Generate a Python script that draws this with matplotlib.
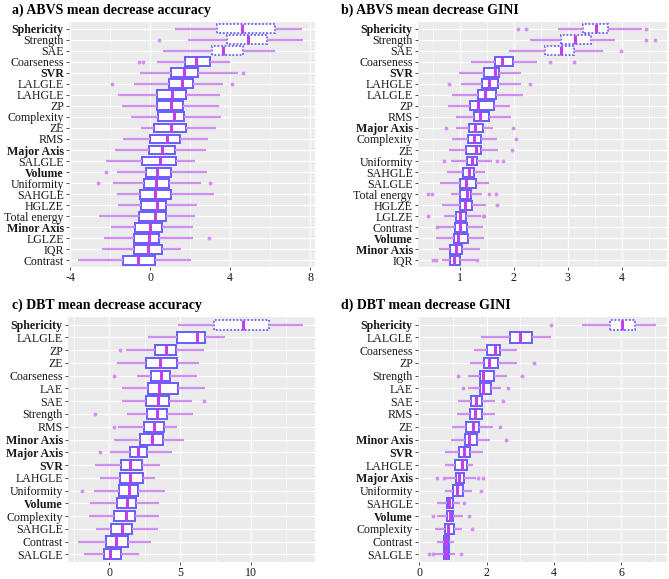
import matplotlib.pyplot as plt

plt.rcParams['font.family'] = ['Liberation Serif', 'DejaVu Serif']

# ---- panel a) ABVS mean decrease accuracy ----
a_labels = ["Sphericity", "Strength", "SAE", "Coarseness", "SVR", "LALGLE", "LAHGLE", "ZP",
            "Complexity", "ZE", "RMS", "Major Axis", "SALGLE", "Volume", "Uniformity", "SAHGLE",
            "HGLZE", "Total energy", "Minor Axis", "LGLZE", "IQR", "Contrast"]
a_lo = [1.25, 1.88, 0.67, 0.35, -0.50, -0.78, -1.60, -1.38, -0.97, -0.43, -1.33, -1.73, -2.20,
        -1.63, -1.83, -1.63, -1.58, -2.55, -1.95, -2.28, -2.38, -3.58]
a_q1 = [3.37, 3.83, 3.08, 1.73, 1.03, 0.93, 0.37, 0.37, 0.38, 0.20, 0.02, -0.07, -0.38,
        -0.22, -0.32, -0.52, -0.43, -0.57, -0.73, -0.80, -0.78, -1.37]
a_med = [4.62, 4.92, 3.67, 2.30, 1.68, 1.60, 1.08, 1.05, 1.18, 1.05, 0.87, 0.62, 0.50,
         0.37, 0.32, 0.25, 0.37, 0.25, -0.02, -0.07, -0.12, -0.58]
a_q3 = [6.27, 5.87, 4.67, 3.02, 2.38, 2.17, 1.82, 1.65, 1.72, 1.82, 1.52, 1.27, 1.30,
        1.07, 0.93, 1.05, 0.82, 0.82, 0.62, 0.43, 0.60, 0.27]
a_hi = [7.58, 7.63, 6.25, 4.00, 4.38, 3.65, 3.48, 3.43, 3.53, 3.30, 2.90, 2.78, 2.27,
        2.85, 2.55, 3.20, 2.33, 2.27, 2.13, 2.13, 1.53, 2.03]
a_out = [[], [0.47], [], [-0.53, -0.37], [4.63], [-1.88, 4.10], [], [], [], [], [], [], [],
         [-2.22], [-2.58, 3.02], [], [], [], [], [2.97], [], []]

# ---- panel b) ABVS mean decrease GINI ----
b_labels = ["Sphericity", "Strength", "SAE", "Coarseness", "SVR", "LAHGLE", "LALGLE", "ZP",
            "RMS", "Major Axis", "Complexity", "ZE", "Uniformity", "SAHGLE", "SALGLE",
            "Total energy", "HGLZE", "LGLZE", "Contrast", "Volume", "Minor Axis", "IQR"]
b_lo = [2.81, 2.30, 1.90, 1.21, 0.98, 1.02, 0.85, 0.78, 0.92, 0.93, 0.86, 0.80, 0.83, 0.76,
        0.63, 0.84, 0.67, 0.70, 0.59, 0.56, 0.61, 0.66]
b_q1 = [3.28, 2.88, 2.57, 1.64, 1.44, 1.40, 1.33, 1.19, 1.25, 1.16, 1.14, 1.11, 1.12, 1.05,
        0.99, 1.00, 0.99, 0.93, 0.91, 0.88, 0.82, 0.82]
b_med = [3.53, 3.14, 2.87, 1.78, 1.64, 1.54, 1.46, 1.34, 1.37, 1.27, 1.26, 1.29, 1.22, 1.16,
         1.11, 1.12, 1.09, 1.00, 1.00, 0.96, 0.93, 0.89]
b_q3 = [3.75, 3.43, 3.12, 1.98, 1.73, 1.70, 1.66, 1.63, 1.54, 1.43, 1.39, 1.39, 1.32, 1.26,
        1.29, 1.21, 1.22, 1.11, 1.12, 1.14, 1.04, 0.99]
b_hi = [4.38, 3.87, 3.66, 2.42, 2.14, 2.14, 2.17, 1.93, 1.94, 1.62, 1.69, 1.71, 1.59, 1.47,
        1.54, 1.40, 1.48, 1.39, 1.42, 1.45, 1.37, 1.29]
b_out = [[2.08, 2.22, 4.45], [4.45, 4.62], [3.98], [2.67, 3.11], [], [0.79, 2.29], [], [], [],
         [0.74, 1.99], [2.04], [1.96], [0.71, 1.69, 1.79], [], [], [0.40, 0.48, 1.54, 1.66],
         [1.69], [0.40, 1.42, 1.45], [0.57], [], [], [0.50, 0.55, 1.31]]

# ---- panel c) DBT mean decrease accuracy ----
c_labels = ["Sphericity", "LALGLE", "ZP", "ZE", "Coarseness", "LAE", "SAE", "Strength", "RMS",
            "Minor Axis", "Major Axis", "SVR", "LAHGLE", "Uniformity", "Volume", "Complexity",
            "SAHGLE", "Contrast", "SALGLE"]
c_lo = [4.87, 2.75, 1.15, 0.56, 1.98, 0.92, 0.92, 1.22, 0.64, 0.35, 0.07, -1.01, -0.68,
        -1.06, -1.36, -1.44, -0.96, -2.21, -1.79]
c_q1 = [7.36, 4.80, 3.25, 2.61, 2.96, 2.71, 2.59, 2.64, 2.42, 2.19, 1.48, 0.85, 0.78,
        0.71, 0.56, 0.31, 0.14, -0.26, -0.40]
c_med = [9.46, 6.21, 3.98, 3.60, 3.62, 3.51, 3.41, 3.34, 3.18, 3.01, 2.02, 1.44, 1.44,
         1.39, 1.22, 1.15, 0.87, 0.45, 0.05]
c_q3 = [11.29, 6.75, 4.71, 4.80, 4.31, 4.85, 4.19, 4.09, 3.84, 3.76, 2.68, 2.33, 2.35,
        2.00, 1.91, 1.84, 1.58, 1.34, 0.85]
c_hi = [13.69, 8.14, 6.68, 6.35, 6.16, 6.78, 5.81, 5.88, 4.78, 5.25, 4.40, 3.58, 3.22,
        3.91, 3.51, 3.51, 3.44, 2.92, 2.07]
c_out = [[], [], [0.75], [], [0.33], [], [6.68], [-1.04], [0.31], [], [-0.68], [], [],
         [-1.93], [], [], [], [], []]

# ---- panel d) DBT mean decrease GINI ----
d_labels = ["Sphericity", "LALGLE", "Coarseness", "ZP", "Strength", "LAE", "SAE", "RMS", "ZE",
            "Minor Axis", "SVR", "LAHGLE", "Major Axis", "Uniformity", "SAHGLE", "Volume",
            "Complexity", "Contrast", "SALGLE"]
d_lo = [4.85, 1.82, 1.63, 1.50, 1.46, 1.46, 1.15, 1.11, 0.97, 0.94, 0.76, 0.76, 0.74, 0.75,
        0.52, 0.53, 0.46, 0.53, 0.37]
d_q1 = [5.67, 2.71, 2.00, 1.91, 1.80, 1.81, 1.55, 1.50, 1.38, 1.37, 1.18, 1.06, 1.10, 1.00,
        0.83, 0.81, 0.75, 0.72, 0.74]
d_med = [6.02, 3.01, 2.24, 2.06, 1.89, 1.90, 1.70, 1.66, 1.61, 1.49, 1.33, 1.27, 1.19, 1.11,
         0.89, 0.91, 0.86, 0.80, 0.80]
d_q3 = [6.41, 3.34, 2.41, 2.34, 2.23, 2.13, 1.85, 1.85, 1.78, 1.72, 1.50, 1.43, 1.34, 1.31,
        1.00, 1.00, 1.02, 0.89, 0.89]
d_hi = [7.03, 3.93, 2.92, 2.90, 2.60, 2.43, 2.24, 2.24, 2.18, 2.10, 1.89, 1.60, 1.68, 1.58,
        1.22, 1.29, 1.27, 1.04, 1.06]
d_out = [[3.91], [], [], [3.41], [1.15, 3.05], [1.30, 2.65], [2.48], [], [2.40], [2.57], [],
         [], [0.52, 0.72, 1.76, 1.90], [1.84], [1.33], [0.41, 1.47], [1.58], [], [0.30, 0.40, 1.24]]

bold_labels = {"Sphericity", "SVR", "Major Axis", "Volume", "Minor Axis"}

BOX = "#6a5cff"
MED = "#c040ee"
WHISK = "#d08ef3"
FLIER = "#d490f0"

panels = [
    ("a) ABVS mean decrease accuracy", a_labels, a_lo, a_q1, a_med, a_q3, a_hi, a_out, 3,
     (69, 22, 315, 267), (-4.05, 8.25), [-4, 0, 4, 8], [-2, 2, 6], 12),
    ("b) ABVS mean decrease GINI", b_labels, b_lo, b_q1, b_med, b_q3, b_hi, b_out, 3,
     (418, 22, 667, 267), (0.22, 4.84), [1, 2, 3, 4], [0.5, 1.5, 2.5, 3.5, 4.5], 341),
    ("c) DBT mean decrease accuracy", c_labels, c_lo, c_q1, c_med, c_q3, c_hi, c_out, 1,
     (68, 317, 315, 562), (-2.92, 14.52), [0, 5, 10], [-2.5, 2.5, 7.5, 12.5], 12),
    ("d) DBT mean decrease GINI", d_labels, d_lo, d_q1, d_med, d_q3, d_hi, d_out, 1,
     (418, 317, 667, 562), (-0.04, 7.37), [0, 2, 4, 6], [1, 3, 5, 7], 341),
]

W, H = 669, 579
fig = plt.figure(figsize=(W / 100, H / 100), dpi=100)

for (title, labels, lo, q1, med, q3, hi, out, n_dot, box_px, xlim, majors, minors, tx) in panels:
    l, t, r, b = box_px
    ax = fig.add_axes([l / W, 1 - b / H, (r - l) / W, (b - t) / H])
    ax.set_facecolor("#ebebeb")
    n = len(labels)
    pos = [n - i for i in range(n)]

    stats = []
    for i in range(n):
        stats.append(dict(whislo=lo[i], q1=q1[i], med=med[i], q3=q3[i], whishi=hi[i],
                          fliers=out[i], label=labels[i]))

    common = dict(vert=False, widths=0.8, showcaps=False, patch_artist=True,
                  whiskerprops=dict(color=WHISK, lw=1.6, solid_capstyle='butt'),
                  medianprops=dict(color=MED, lw=2.2, solid_capstyle='butt'),
                  flierprops=dict(marker='o', markersize=2.8, markerfacecolor=FLIER,
                                  markeredgecolor='none'),
                  manage_ticks=False)
    # dotted boxes for the top-ranked features, solid for the rest
    ax.bxp(stats[:n_dot], positions=pos[:n_dot],
           boxprops=dict(facecolor="white", edgecolor=BOX, lw=1.3, linestyle=(0, (1, 1))),
           **common)
    ax.bxp(stats[n_dot:], positions=pos[n_dot:],
           boxprops=dict(facecolor="white", edgecolor=BOX, lw=1.4),
           **common)

    ax.set_xlim(*xlim)
    ax.set_ylim(0.4, n + 0.6)
    ax.set_xticks(majors)
    ax.set_xticklabels([str(m) for m in majors])
    ax.set_xticks(minors, minor=True)
    ax.set_yticks(pos)
    texts = ax.set_yticklabels(labels)
    for lab, txt in zip(labels, texts):
        txt.set_fontweight("bold" if lab in bold_labels else "normal")

    ax.grid(True, which="major", color="white", lw=0.9)
    ax.grid(True, which="minor", axis="x", color="white", lw=0.45)
    ax.set_axisbelow(True)
    for s in ax.spines.values():
        s.set_visible(False)
    ax.tick_params(axis="both", which="major", length=2.2, width=0.6, color="#333333",
                   labelsize=8.6, labelcolor="#1a1a1a", pad=1.5)
    ax.tick_params(axis="x", which="minor", length=0)

    fig.text(tx / W, 1 - (t - 12) / H, title, fontsize=10, fontweight="bold",
             ha="left", va="center")

fig.savefig("out.png", dpi=100)
